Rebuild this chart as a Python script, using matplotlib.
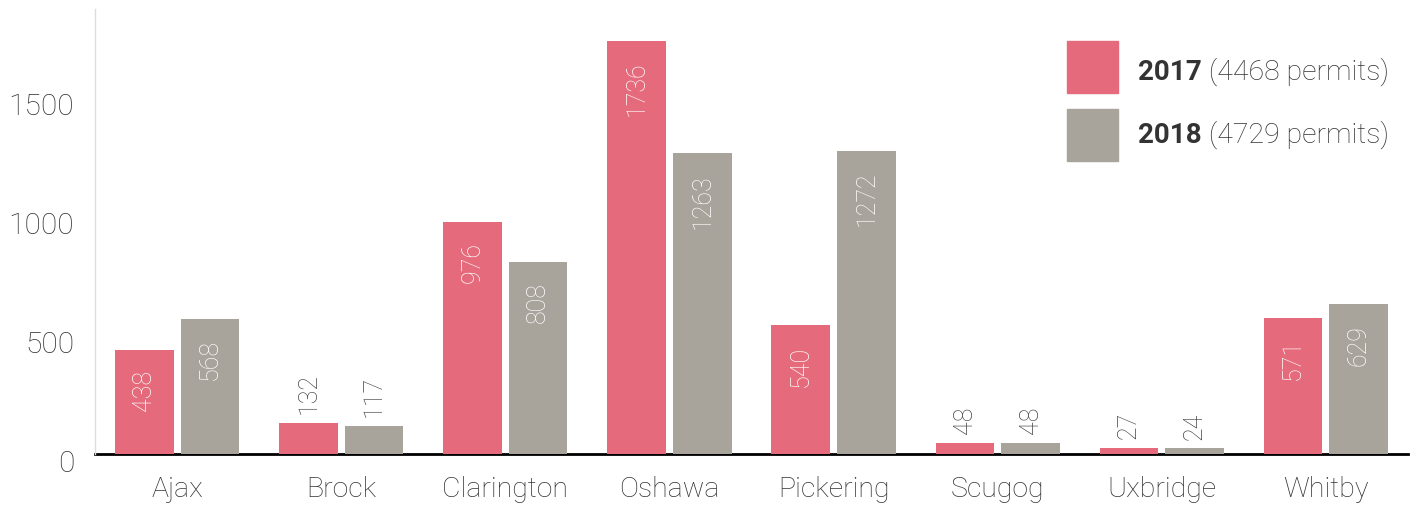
import matplotlib
matplotlib.use("Agg")
import matplotlib.pyplot as plt
from matplotlib.patches import Rectangle
from matplotlib.transforms import ScaledTranslation
import numpy as np

municipalities = ["Ajax", "Brock", "Clarington", "Oshawa", "Pickering", "Scugog", "Uxbridge", "Whitby"]
permits_2017 = [438, 132, 976, 1736, 540, 48, 27, 571]
permits_2018 = [568, 117, 808, 1263, 1272, 48, 24, 629]
series_labels = ["2017", "2018"]
series_totals = ["(4468 permits)", "(4729 permits)"]
y_ticks = [0, 500, 1000, 1500]

RED = "#E56B7C"
GRAY = "#A8A39B"
TXT = "#333333"
FONT = "Roboto"

plt.rcParams["font.family"] = [FONT, "DejaVu Sans"]

fig = plt.figure(figsize=(14.18, 5.06), dpi=100)
ax = fig.add_axes([95 / 1418, 51 / 506, (1408 - 95) / 1418, (455 - 10) / 506])

x = np.arange(len(municipalities))
w = 0.357
off = 0.2
b1 = ax.bar(x - off, permits_2017, width=w, color=RED, zorder=3)
b2 = ax.bar(x + off, permits_2018, width=w, color=GRAY, zorder=3)

ax.set_xlim(-0.5, 7.5)
ax.set_ylim(0, 1870)

ax.set_xticks(x)
ax.set_xticklabels(municipalities, fontsize=20.5, color=TXT, fontweight="light")
ax.set_yticks(y_ticks)
ax.set_yticklabels([str(v) for v in y_ticks], fontsize=21.5, color=TXT, fontweight="light")
ax.tick_params(axis="both", length=0)
ax.tick_params(axis="x", pad=15)
ax.tick_params(axis="y", pad=15)
for lab in ax.get_yticklabels():
    lab.set_transform(lab.get_transform() + ScaledTranslation(0, -6 / 100, fig.dpi_scale_trans))

for s in ["top", "right"]:
    ax.spines[s].set_visible(False)
ax.spines["left"].set_color("#dddddd")
ax.spines["left"].set_linewidth(1)
ax.spines["bottom"].set_color("black")
ax.spines["bottom"].set_linewidth(2)
ax.spines["bottom"].set_zorder(2)

for bars in (b1, b2):
    for rect in bars:
        v = rect.get_height()
        cx = rect.get_x() + rect.get_width() / 2
        if v >= 300:
            ax.annotate(str(int(v)), (cx, v), xytext=(0, -14), textcoords="offset points",
                        rotation=90, ha="center", va="top", color="white",
                        fontsize=18, fontweight="light", zorder=4)
        else:
            ax.annotate(str(int(v)), (cx, v), xytext=(0, 7), textcoords="offset points",
                        rotation=90, ha="center", va="bottom", color="#444444",
                        fontsize=18, fontweight="light", zorder=4)

# legend
baselines = [80, 143]
for i, (col, lab, tot) in enumerate(zip([RED, GRAY], series_labels, series_totals)):
    top = 42 + i * 68
    fig.patches.append(Rectangle((1067 / 1418, 1 - (top + 52) / 506), 51 / 1418, 52 / 506,
                                 transform=fig.transFigure, color=col, figure=fig))
    yb = 1 - baselines[i] / 506
    t1 = fig.text(1138 / 1418, yb, lab, fontsize=20, fontweight="bold", color="#333333",
                  va="baseline", ha="left")
    fig.canvas.draw()
    ax.annotate(" " + tot, xy=(1, 0), xycoords=t1, va="bottom", ha="left",
                fontsize=20.5, fontweight="light", color=TXT, annotation_clip=False)

fig.savefig("out.png", dpi=100)
